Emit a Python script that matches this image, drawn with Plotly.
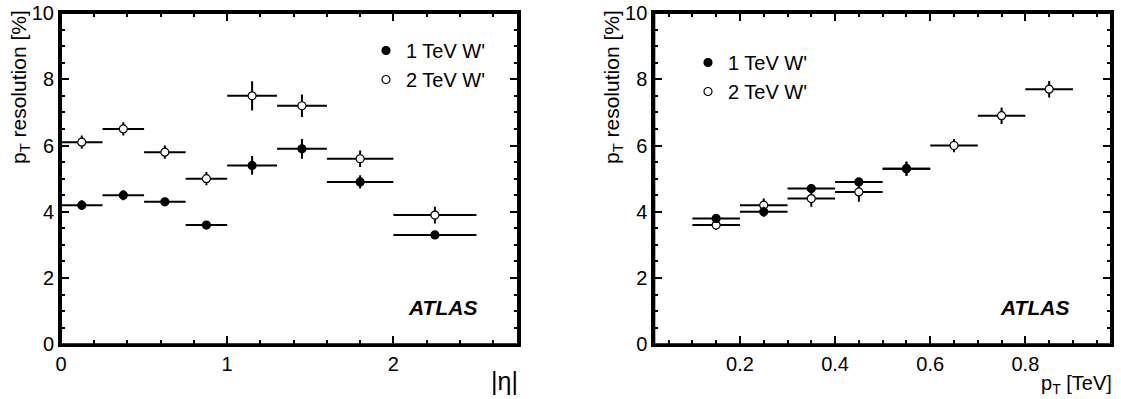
import plotly.graph_objects as go

# ---------------- data ----------------
# Left panel: |eta| bins
eta_lo = [0.0, 0.25, 0.5, 0.75, 1.0, 1.3, 1.6, 2.0]
eta_hi = [0.25, 0.5, 0.75, 1.0, 1.3, 1.6, 2.0, 2.5]
eta_1tev = [4.2, 4.5, 4.3, 3.6, 5.4, 5.9, 4.9, 3.3]
eta_1tev_err = [0.15, 0.15, 0.1, 0.05, 0.28, 0.3, 0.2, 0.1]
eta_2tev = [6.1, 6.5, 5.8, 5.0, 7.5, 7.2, 5.6, 3.9]
eta_2tev_err = [0.2, 0.2, 0.2, 0.2, 0.44, 0.34, 0.25, 0.25]

# Right panel: pT bins [TeV]
pt_lo_1 = [0.1, 0.2, 0.3, 0.4, 0.5]
pt_hi_1 = [0.2, 0.3, 0.4, 0.5, 0.6]
pt_1tev = [3.8, 4.0, 4.7, 4.9, 5.3]
pt_1tev_err = [0.12, 0.15, 0.1, 0.12, 0.22]
pt_lo_2 = [0.1, 0.2, 0.3, 0.4, 0.5, 0.6, 0.7, 0.8]
pt_hi_2 = [0.2, 0.3, 0.4, 0.5, 0.6, 0.7, 0.8, 0.9]
pt_2tev = [3.6, 4.2, 4.4, 4.6, 5.3, 6.0, 6.9, 7.7]
pt_2tev_err = [0.15, 0.2, 0.25, 0.3, 0.2, 0.2, 0.25, 0.25]

labels = ["1 TeV W'", "2 TeV W'"]
eta_ticks = [0, 1, 2]
pt_ticks = [0.2, 0.4, 0.6, 0.8]
y_ticks = [0, 2, 4, 6, 8, 10]

# ---------------- layout helpers ----------------
W, H = 1121, 399
FONT = "Liberation Sans, Arial, Helvetica, sans-serif"


def px(x):
    return x / W


def py(y):
    return 1 - y / H


def centers(lo, hi):
    return [(a + b) / 2 for a, b in zip(lo, hi)]


def halfw(lo, hi):
    return [(b - a) / 2 for a, b in zip(lo, hi)]


def series(lo, hi, y, ey, name, filled, xa, ya, legend):
    return go.Scatter(
        x=centers(lo, hi), y=y, mode="markers", name=name,
        xaxis=xa, yaxis=ya, legend=legend, legendgroup=name + xa,
        marker=dict(symbol="circle", size=8,
                    color="black" if filled else "white",
                    line=dict(color="black", width=1.2)),
        error_x=dict(type="data", array=halfw(lo, hi), width=0,
                     thickness=2, color="black"),
        error_y=dict(type="data", array=ey, width=0,
                     thickness=2, color="black"),
    )


fig = go.Figure(layout=dict(template="none"))
fig.add_trace(series(eta_lo, eta_hi, eta_1tev, eta_1tev_err, labels[0], True, "x", "y", "legend"))
fig.add_trace(series(eta_lo, eta_hi, eta_2tev, eta_2tev_err, labels[1], False, "x", "y", "legend"))
fig.add_trace(series(pt_lo_2, pt_hi_2, pt_2tev, pt_2tev_err, labels[1], False, "x2", "y2", "legend2"))
fig.add_trace(series(pt_lo_1, pt_hi_1, pt_1tev, pt_1tev_err, labels[0], True, "x2", "y2", "legend2"))
fig.data[3].legendrank = 1
fig.data[2].legendrank = 2

axis_common = dict(
    showline=True, linecolor="#000000", linewidth=3, mirror="ticks",
    ticks="inside", ticklen=8, tickwidth=2, tickcolor="#000000",
    showgrid=False, zeroline=False, automargin=False,
    tickfont=dict(family=FONT, size=20, color="black"),
)
minor_common = dict(ticks="inside", ticklen=4, tickwidth=2, tickcolor="#000000")

# minor tick positions for the pT axis (every 0.05, skipping the major ones)
pt_minor = [round(0.05 * i, 2) for i in range(1, 20) if i % 4 != 0]

ydom = [py(344.3), py(13)]
fig.update_layout(
    width=W, height=H, margin=dict(l=0, r=0, t=0, b=0, pad=0, autoexpand=False),
    autosize=False,
    paper_bgcolor="white", plot_bgcolor="white",
    font=dict(family=FONT, color="black"),
    xaxis=dict(domain=[px(61), px(518)], range=[0, 2.75], tickvals=eta_ticks,
               minor=dict(dtick=0.2, tick0=0, **minor_common),
               anchor="y", **axis_common),
    yaxis=dict(domain=ydom, range=[0, 10], tickvals=y_ticks,
               minor=dict(dtick=0.5, tick0=0, **minor_common),
               anchor="x", **axis_common),
    xaxis2=dict(domain=[px(654.3), px(1111)], range=[0.02, 0.98],
                tickvals=pt_ticks,
                minor=dict(tickmode="array", tickvals=pt_minor, **minor_common),
                anchor="y2", **axis_common),
    yaxis2=dict(domain=ydom, range=[0, 10], tickvals=y_ticks,
                minor=dict(dtick=0.5, tick0=0, **minor_common),
                anchor="x2", **axis_common),
    legend=dict(x=px(366), y=py(31), xanchor="left", yanchor="top",
                bgcolor="rgba(0,0,0,0)", font=dict(family=FONT, size=20),
                tracegroupgap=0, itemclick=False),
    legend2=dict(x=px(688), y=py(43), xanchor="left", yanchor="top",
                 bgcolor="rgba(0,0,0,0)", font=dict(family=FONT, size=20),
                 tracegroupgap=0, itemclick=False),
    showlegend=True,
)

# solid black frame around each plot area
shapes = []
for xr, yr in (("x domain", "y domain"), ("x2 domain", "y2 domain")):
    shapes.append(dict(type="rect", xref=xr, yref=yr, x0=0, x1=1, y0=0, y1=1,
                       line=dict(color="#000000", width=2), fillcolor="rgba(0,0,0,0)",
                       layer="above"))
fig.update_layout(shapes=shapes)

ann = []
ytitle = "p<sub>T</sub> resolution [%]"
for xc in (20, 613):
    ann.append(dict(x=px(xc), y=py(8), xref="paper", yref="paper", text=ytitle,
                    textangle=-90, showarrow=False, xanchor="center", yanchor="top",
                    font=dict(family=FONT, size=21)))
ann.append(dict(x=px(520), y=py(397), xref="paper", yref="paper", text="|η|",
                showarrow=False, xanchor="right", yanchor="bottom",
                font=dict(family=FONT, size=25)))
ann.append(dict(x=px(1114), y=py(399), xref="paper", yref="paper",
                text="p<sub>T</sub> [TeV]", showarrow=False, xanchor="right",
                yanchor="bottom", font=dict(family=FONT, size=20)))
for xr in (479, 1071):
    ann.append(dict(x=px(xr), y=py(307), xref="paper", yref="paper",
                    text="<b><i>ATLAS</i></b>", showarrow=False, xanchor="right",
                    yanchor="middle", font=dict(family=FONT, size=21)))
fig.update_layout(annotations=ann)

fig.write_html("out.html", config={"displayModeBar": False},
               post_script="document.body.style.margin='0';document.body.style.overflow='hidden';")
